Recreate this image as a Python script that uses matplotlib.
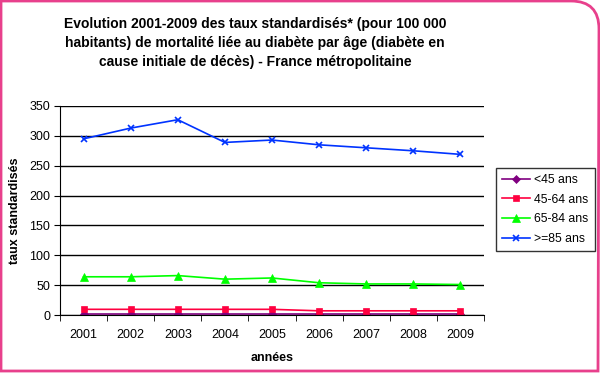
import numpy as np
import matplotlib
matplotlib.use("Agg")
import matplotlib.pyplot as plt
from matplotlib.path import Path
from matplotlib.patches import PathPatch

plt.rcParams['font.family'] = ['Liberation Sans', 'DejaVu Sans']

annees = [2001, 2002, 2003, 2004, 2005, 2006, 2007, 2008, 2009]
moins_45 = [1, 1, 1, 1, 1, 1, 1, 1, 1]
ans_45_64 = [9.5, 9.5, 9.5, 9.5, 9.5, 7, 7, 7, 7]
ans_65_84 = [64, 64, 66, 60, 62, 54, 52, 52, 51]
plus_85 = [295, 313, 327, 289, 293, 285, 280, 275, 269]

series = [
    ("<45 ans", moins_45, "#800080", "D", 4),
    ("45-64 ans", ans_45_64, "#FF0040", "s", 5),
    ("65-84 ans", ans_65_84, "#00FF00", "^", 6),
    (">=85 ans", plus_85, "#0033FF", "x", 5),
]

W, H = 600, 374
fig = plt.figure(figsize=(W / 100, H / 100), dpi=100)

# cadre rose avec coin supérieur droit arrondi
bg = fig.add_axes([0, 0, 1, 1])
bg.set_xlim(0, W)
bg.set_ylim(0, H)
bg.axis("off")
r = 28
verts = [(1, 3), (1, H - 1), (W - 1 - r, H - 1), (W - 1, H - 1), (W - 1, H - 1 - r), (W - 2, 3), (1, 3)]
codes = [Path.MOVETO, Path.LINETO, Path.LINETO, Path.CURVE3, Path.CURVE3, Path.LINETO, Path.CLOSEPOLY]
bg.add_patch(PathPatch(Path(verts, codes), facecolor="white", edgecolor="#E8408C", lw=2))

ax = fig.add_axes([60 / W, 1 - 315 / H, 424 / W, 209 / H])
x = np.arange(len(annees))
for label, vals, color, marker, ms in series:
    ax.plot(x, vals, color=color, marker=marker, markersize=ms, lw=1.2,
            markeredgewidth=1.2 if marker == "x" else 0.5, label=label)

ax.set_xlim(-0.5, len(annees) - 0.5)
ax.set_ylim(0, 350)
ax.set_yticks(np.arange(0, 351, 50))
ax.set_xticks(x)
ax.set_xticklabels([str(a) for a in annees])
ax.set_xticks(np.arange(-0.5, len(annees), 1), minor=True)
ax.tick_params(axis="x", which="major", length=0, pad=10, labelsize=9)
ax.tick_params(axis="x", which="minor", length=4, direction="out", color="black")
ax.tick_params(axis="y", length=4, direction="out", labelsize=9, pad=3)
ax.grid(axis="y", color="black", lw=1)
ax.set_axisbelow(True)
for s in ["top", "right"]:
    ax.spines[s].set_visible(False)
ax.spines["left"].set_color("black")
ax.spines["bottom"].set_color("black")

ax.set_xlabel("années", fontsize=9, fontweight="bold", labelpad=8)
ax.set_ylabel("taux standardisés", fontsize=9, fontweight="bold", labelpad=6)

leg = ax.legend(loc="upper left", bbox_to_anchor=(496 / W, 1 - 168 / H),
                bbox_transform=fig.transFigure, frameon=True, fancybox=False,
                fontsize=8.8, handlelength=2.3, labelspacing=0.62, borderpad=0.5,
                borderaxespad=0, handletextpad=0.35)
leg.get_frame().set_edgecolor("black")
leg.get_frame().set_linewidth(1)

fig.text(255 / W, 1 - 43 / H,
         "Evolution 2001-2009 des taux standardisés* (pour 100 000\n"
         "habitants) de mortalité liée au diabète par âge (diabète en\n"
         "cause initiale de décès) - France métropolitaine",
         ha="center", va="center", fontsize=10, fontweight="bold", linespacing=1.45)

fig.savefig("out.png", dpi=100)
